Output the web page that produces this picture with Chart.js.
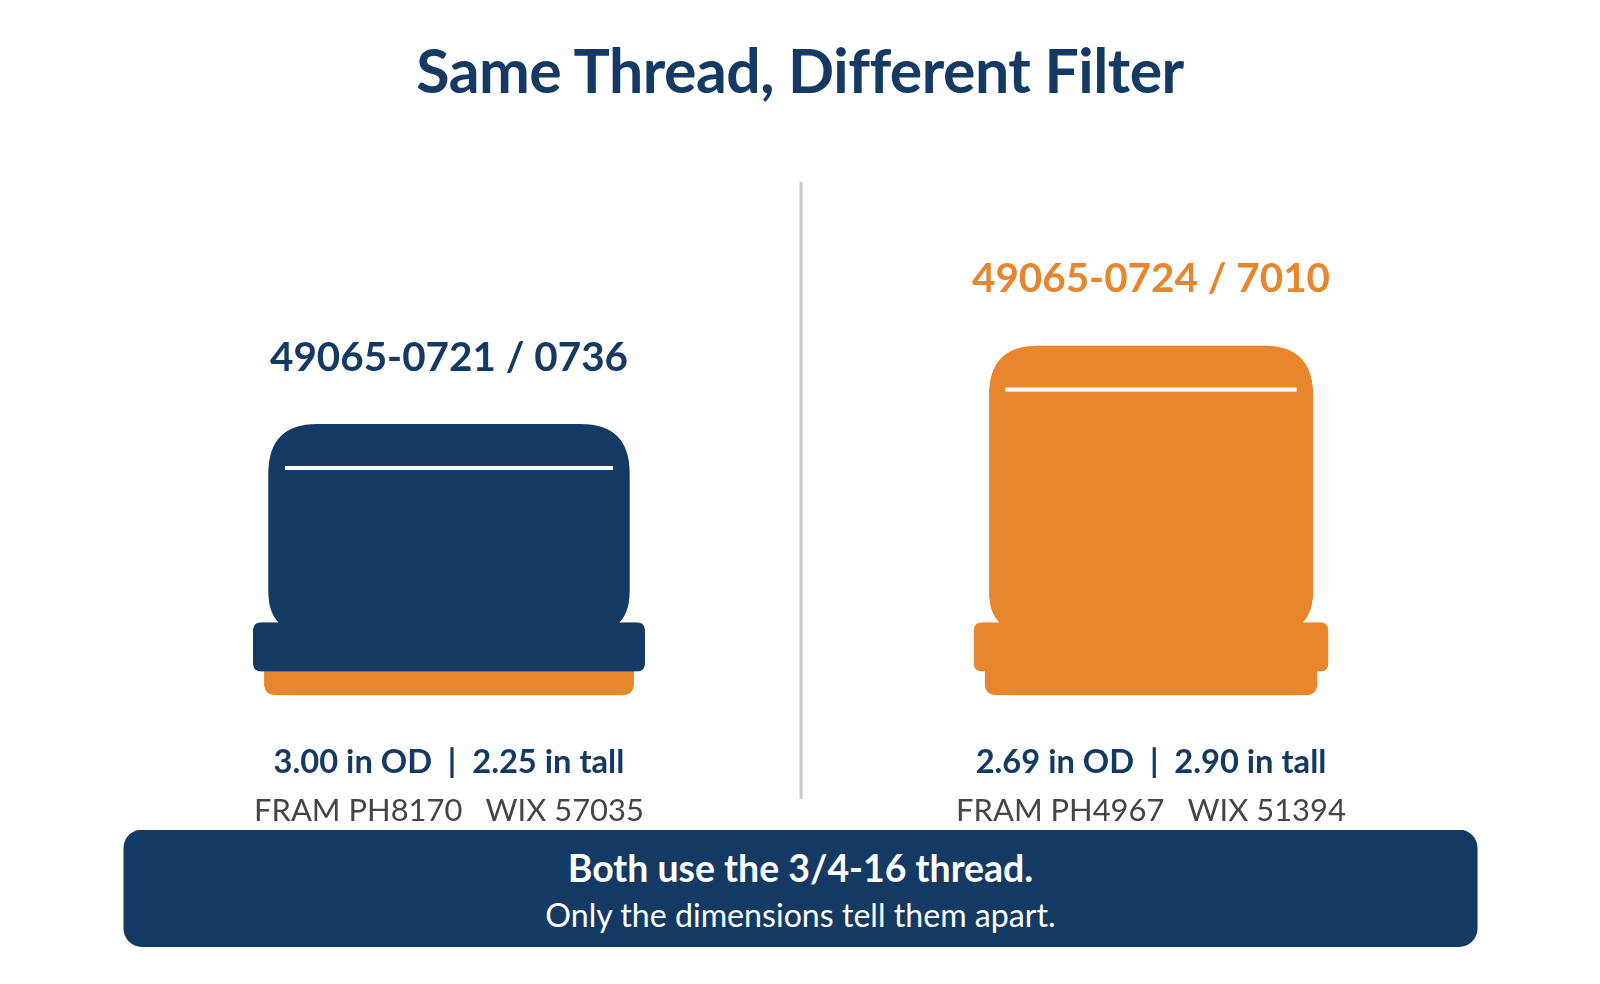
<!DOCTYPE html>
<html><head><meta charset="utf-8">
<script src="https://cdn.jsdelivr.net/npm/chart.js@4"></script>
<style>
html,body{margin:0;padding:0;background:#fff;width:1600px;height:984px;overflow:hidden;font-family:Lato,"Open Sans",sans-serif}
#wrap{position:relative;width:1568px;height:964px;transform:scale(1.0204);transform-origin:0 0}
canvas{position:absolute;left:0;top:0}
.t{position:absolute;transform:translate(-50%,-50%);white-space:nowrap}
#title{left:784px;top:68px;font-size:59.5px;font-weight:700;color:#143a63;letter-spacing:-0.5px}
.part{font-size:39.6px;font-weight:700}
.dim{font-size:32px;font-weight:700;color:#143a63}
.xref{font-size:30.3px;color:#454545}
#banner{position:absolute;left:121px;top:813px;width:1327px;height:115px;background:#143a63;border-radius:18px;color:#fff;text-align:center}
#b1{font-size:36.7px;font-weight:700;margin-top:15px;line-height:44px}
#b2{font-size:31.5px;line-height:40px;margin-top:4px}
</style></head><body>
<div id="wrap"><canvas id="c" width="1568" height="964"></canvas>
<div id="title" class="t">Same Thread, Different Filter</div>
<div id="labels"></div>
<div id="banner"><div id="b1">Both use the 3/4-16 thread.</div><div id="b2">Only the dimensions tell them apart.</div></div>
</div>
<script>
const partNumbers = ["49065-0721 / 0736", "49065-0724 / 7010"];
const odInches = [3.00, 2.69];
const tallInches = [2.25, 2.90];
const crossRefs = ["FRAM PH8170\u2003WIX 57035", "FRAM PH4967\u2003WIX 51394"];
const bodyColors = ["#143a63", "#e8862e"];
const gasketColor = "#e8862e";
const labelColors = ["#143a63", "#e8862e"];

const W = 1568, H = 964;
const PX = 118; // px per inch
const centers = [440 / PX, 1128 / PX];
const baseY = (H - 681) / PX;

function rr(ctx, x, y, w, h, r) {
  const tl = r[0], tr = r[1], br = r[2], bl = r[3];
  ctx.beginPath();
  ctx.moveTo(x + tl, y);
  ctx.lineTo(x + w - tr, y); ctx.quadraticCurveTo(x + w, y, x + w, y + tr);
  ctx.lineTo(x + w, y + h - br); ctx.quadraticCurveTo(x + w, y + h, x + w - br, y + h);
  ctx.lineTo(x + bl, y + h); ctx.quadraticCurveTo(x, y + h, x, y + h - bl);
  ctx.lineTo(x, y + tl); ctx.quadraticCurveTo(x, y, x + tl, y);
  ctx.closePath(); ctx.fill();
}

const filterPlugin = {
  id: 'filters',
  afterDatasetsDraw(chart) {
    const ctx = chart.ctx, xs = chart.scales.x, ys = chart.scales.y;
    ctx.save();
    ctx.strokeStyle = "#c5c9cf"; ctx.lineWidth = 3;
    ctx.beginPath(); ctx.moveTo(785, 178); ctx.lineTo(785, 783); ctx.stroke();
    let html = "";
    odInches.forEach((od, i) => {
      const c = centers[i];
      const gL = xs.getPixelForValue(c - (od + 0.07) / 2), gR = xs.getPixelForValue(c + (od + 0.07) / 2);
      const pL = xs.getPixelForValue(c - (od + 0.254) / 2), pR = xs.getPixelForValue(c + (od + 0.254) / 2);
      const bL = xs.getPixelForValue(c - od / 2), bR = xs.getPixelForValue(c + od / 2);
      const yBase = ys.getPixelForValue(baseY);
      const yGasket = ys.getPixelForValue(baseY + 0.195);
      const yPlate = ys.getPixelForValue(baseY + 0.195 + 0.407);
      const yTop = ys.getPixelForValue(baseY + tallInches[i]);
      const col = bodyColors[i];
      ctx.fillStyle = i === 0 ? gasketColor : col;
      rr(ctx, gL, yGasket - 2, gR - gL, yBase - yGasket + 2, [0, 0, 11, 11]);
      ctx.fillStyle = col;
      rr(ctx, bL, yTop, bR - bL, yPlate - yTop + 10, [48, 48, 40, 40]);
      rr(ctx, pL, yPlate, pR - pL, yGasket - yPlate, [8, 8, 8, 8]);
      ctx.strokeStyle = "#fff"; ctx.lineWidth = 4;
      ctx.beginPath(); ctx.moveTo(bL + 16, yTop + 43); ctx.lineTo(bR - 16, yTop + 43); ctx.stroke();
      const cx = xs.getPixelForValue(c);
      html += `<div class="t part" style="left:${cx}px;top:${yTop - 68}px;color:${labelColors[i]}">${partNumbers[i]}</div>`;
      html += `<div class="t dim" style="left:${cx}px;top:745px">${od.toFixed(2)} in OD&nbsp; |&nbsp; ${tallInches[i].toFixed(2)} in tall</div>`;
      html += `<div class="t xref" style="left:${cx}px;top:793px">${crossRefs[i]}</div>`;
    });
    ctx.restore();
    document.getElementById('labels').innerHTML = html;
  }
};

new Chart(document.getElementById('c'), {
  type: 'scatter',
  data: { datasets: [{ data: centers.map((c, i) => ({ x: c, y: baseY + tallInches[i] })), pointRadius: 0 }] },
  options: {
    responsive: false, animation: false, devicePixelRatio: 2,
    layout: { padding: 0 },
    plugins: { legend: { display: false }, tooltip: { enabled: false } },
    scales: {
      x: { type: 'linear', min: 0, max: W / PX, display: false },
      y: { type: 'linear', min: 0, max: H / PX, display: false }
    }
  },
  plugins: [filterPlugin]
});
</script>
</body></html>
